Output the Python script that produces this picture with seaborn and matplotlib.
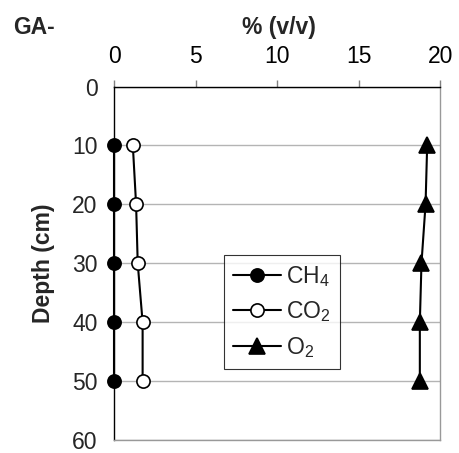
import numpy as np
import pandas as pd
import matplotlib
matplotlib.use('Agg')
import matplotlib.pyplot as plt
import seaborn as sns

sns.set_style('white')
plt.rcParams['font.family'] = ['Liberation Sans', 'DejaVu Sans']
plt.rcParams['mathtext.fontset'] = 'custom'
plt.rcParams['mathtext.rm'] = 'Liberation Sans'
plt.rcParams['mathtext.it'] = 'Liberation Sans'

# data
depth = [10, 20, 30, 40, 50]
ch4 = [0.0, 0.0, 0.0, 0.0, 0.0]
co2 = [1.15, 1.35, 1.45, 1.75, 1.75]
o2 = [19.2, 19.1, 18.85, 18.75, 18.75]
gas_labels = ['CH$_4$', 'CO$_2$', 'O$_2$']

df = pd.DataFrame({
    'depth': depth * 3,
    'pct': ch4 + co2 + o2,
    'gas': [gas_labels[0]] * 5 + [gas_labels[1]] * 5 + [gas_labels[2]] * 5,
})

FS = 16.5

fig = plt.figure(figsize=(4.6, 4.53), dpi=100)
ax = fig.add_axes([0.248, 0.028, 0.709, 0.781])

styles = {
    gas_labels[0]: dict(marker='o', mfc='black', ms=9.5),
    gas_labels[1]: dict(marker='o', mfc='white', ms=9.5),
    gas_labels[2]: dict(marker='^', mfc='black', ms=11),
}
for g in gas_labels:
    sub = df[df.gas == g]
    sns.lineplot(data=sub, x='pct', y='depth', orient='y', sort=False, ax=ax,
                 color='black', lw=1.5, mec='black', mew=1.2, label=g,
                 zorder=3, clip_on=False, **styles[g])

ax.set_xlim(0, 20)
ax.set_ylim(60, 0)
ax.set_xticks([0, 5, 10, 15, 20])
ax.set_yticks([0, 10, 20, 30, 40, 50, 60])
ax.xaxis.tick_top()
ax.xaxis.set_label_position('top')
ax.tick_params(axis='both', labelsize=FS, length=5, width=1, color='black',
               direction='out')
ax.tick_params(axis='x', colors='#808080', labelcolor='black', pad=8)
ax.tick_params(axis='y', pad=7)
ax.set_xlabel('% (v/v)', fontsize=FS, fontweight='bold')
ax.xaxis.set_label_coords(0.505, 1.168)
ax.xaxis.label.set_va('center')
ax.set_ylabel('Depth (cm)', fontsize=FS, fontweight='bold', labelpad=12)

ax.yaxis.grid(True, color='#b4b4b4', lw=1)
ax.set_axisbelow(True)
for s in ['top', 'left']:
    ax.spines[s].set_color('black')
    ax.spines[s].set_linewidth(1)
for s in ['right', 'bottom']:
    ax.spines[s].set_color('#999999')
    ax.spines[s].set_linewidth(1)

leg = ax.legend(loc='upper left', bbox_to_anchor=(0.487, 0.437),
                bbox_transform=fig.transFigure, fontsize=FS, frameon=True,
                fancybox=False, edgecolor='black', handlelength=2.1,
                handletextpad=0.2, borderaxespad=0, borderpad=0.4,
                labelspacing=0.45)
leg.get_frame().set_linewidth(0.8)

fig.text(0.029, 0.94, 'GA-', fontsize=FS, fontweight='bold', va='center')

fig.savefig('out.png', dpi=100)
